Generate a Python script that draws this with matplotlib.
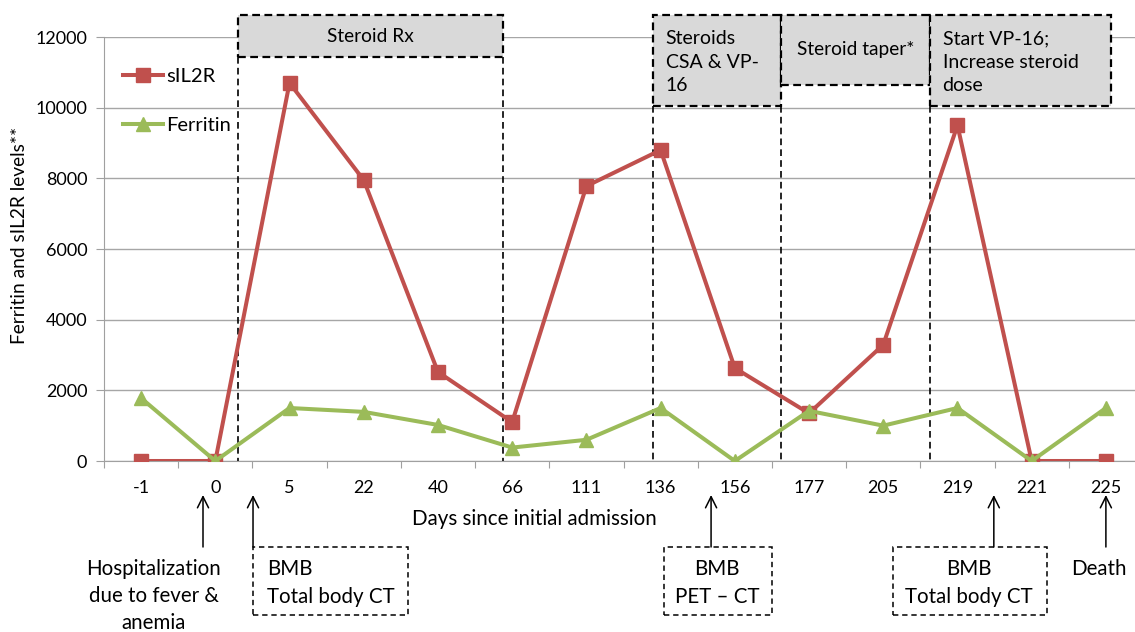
import matplotlib.pyplot as plt
import matplotlib.transforms as mtransforms
from matplotlib.patches import Rectangle
import numpy as np

plt.rcParams['font.family'] = ['Lato', 'DejaVu Sans']

# data
days = ["-1", "0", "5", "22", "40", "66", "111", "136", "156", "177", "205", "219", "221", "225"]
sil2r = [0, 0, 10700, 7950, 2520, 1100, 7780, 8800, 2630, 1350, 3290, 9500, 0, 0]
ferritin = [1780, 0, 1500, 1390, 1020, 380, 600, 1500, 0, 1420, 1000, 1500, 0, 1500]

# treatment phases: (label, start, end, header bottom in px, align)
phases = [
    ("Steroid Rx", 1.31, 4.88, 57, "center"),
    ("Steroids\nCSA & VP-\n16", 6.90, 8.62, 106, "left"),
    ("Steroid taper*", 8.62, 10.63, 85, "center"),
    ("Start VP-16;\nIncrease steroid\ndose", 10.63, 13.07, 106, "left"),
]

# events under the axis: (arrow x, text, text x px, text centre y px, box x-range)
events = [
    (0.834, "Hospitalization\ndue to fever &\nanemia", 154, 596, None),
    (1.508, "BMB\nTotal body CT", 267, 583, (1.508, 3.597)),
    (7.68, "BMB\nPET \u2013 CT", 717, 583, (7.047, 8.50)),
    (11.49, "BMB\nTotal body CT", 969, 583, (10.13, 12.20)),
    (13.0, "Death", 1099, 569, None),
]

W, H = 1135, 632
fig = plt.figure(figsize=(W / 100, H / 100), dpi=100)
ax = fig.add_axes([104 / W, 1 - 461 / H, 1039 / W, 424 / H])


def fy(py):
    return 1 - py / H


x = np.arange(len(days))
red = "#C0504D"
green = "#9BBB59"
ax.plot(x, sil2r, color=red, lw=2.9, marker="s", ms=10, label="sIL2R", zorder=3)
ax.plot(x, ferritin, color=green, lw=2.9, marker="^", ms=10.5, label="Ferritin", zorder=4)

ax.set_xlim(-0.5, len(days) - 0.5)
ax.set_ylim(0, 12000)
ax.set_yticks(np.arange(0, 12001, 2000))
ax.set_xticks(np.arange(-0.5, len(days), 1))
ax.set_xticklabels([])
ax.set_xticks(x, minor=True)
ax.set_xticklabels(days, minor=True)
ax.tick_params(axis="x", which="major", length=5, color="#a0a0a0")
ax.tick_params(axis="x", which="minor", length=0, pad=14, labelsize=13)
ax.tick_params(axis="y", length=6, color="#a0a0a0", labelsize=13, pad=6)
ax.grid(axis="y", color="#a6a6a6", lw=1)
ax.set_axisbelow(True)
for s in ["top", "right"]:
    ax.spines[s].set_visible(False)
ax.spines["left"].set_color("#a0a0a0")
ax.spines["bottom"].set_color("#a0a0a0")

ax.set_xlabel("Days since initial admission", fontsize=14.8)
ax.xaxis.set_label_coords((534 - 104) / 1039, (461 - 519) / 424)
ax.xaxis.label.set_va("center")
ax.set_ylabel("Ferritin and sIL2R levels**", fontsize=13.8)
ax.yaxis.set_label_coords((20 - 104) / 1039, (461 - 235) / 424)
ax.yaxis.label.set_va("center")

ax.legend(loc="upper left", bbox_to_anchor=(0.0106, (461 - 60) / 424), frameon=False,
          fontsize=14.5, handlelength=2.0, handletextpad=0.15, labelspacing=1.6,
          borderaxespad=0)

# phase boxes above the plot
tr = mtransforms.blended_transform_factory(ax.transData, fig.transFigure)
top = fy(15)
for label, x0, x1, hb, align in phases:
    yb = fy(hb)
    ax.add_patch(Rectangle((x0, yb), x1 - x0, top - yb, transform=tr, facecolor="#d9d9d9",
                           edgecolor="black", lw=1.6, ls=(0, (3.5, 2)), clip_on=False, zorder=5))
    if align == "center":
        ax.text((x0 + x1) / 2, (top + yb) / 2, label, transform=tr, ha="center", va="center",
                fontsize=13.8, zorder=6)
    else:
        ax.text(x0 + 0.17, fy(62), label, transform=tr, ha="left", va="center",
                fontsize=14, linespacing=1.45, zorder=6)

# dashed separators down to the axis
for xv, hb in [(1.31, 57), (4.88, 57), (6.90, 106), (8.62, 106), (10.63, 106)]:
    ax.plot([xv, xv], [fy(hb), fy(461)], transform=tr, color="black", lw=1.2,
            ls=(0, (4, 2.5)), clip_on=False, zorder=2)

# events below the axis
for xe, txt, tx, ty, box in events:
    ax.annotate("", xy=(xe, fy(495)), xytext=(xe, fy(547)), xycoords=tr, textcoords=tr,
                arrowprops=dict(arrowstyle="->", color="black", lw=1.1, mutation_scale=20,
                                shrinkA=0, shrinkB=0))
    if box is not None:
        ax.add_patch(Rectangle((box[0], fy(615)), box[1] - box[0], fy(547) - fy(615), transform=tr,
                               facecolor="none", edgecolor="black", lw=1.1, ls=(0, (3.5, 2.5)),
                               clip_on=False))
    if box is not None and xe < 2:
        fig.text(tx / W, fy(ty), txt, ha="left", va="center", fontsize=14.8, linespacing=1.45)
    else:
        fig.text(tx / W, fy(ty), txt, ha="center", va="center", fontsize=14.8, linespacing=1.45)

fig.savefig("out.png", dpi=100)
